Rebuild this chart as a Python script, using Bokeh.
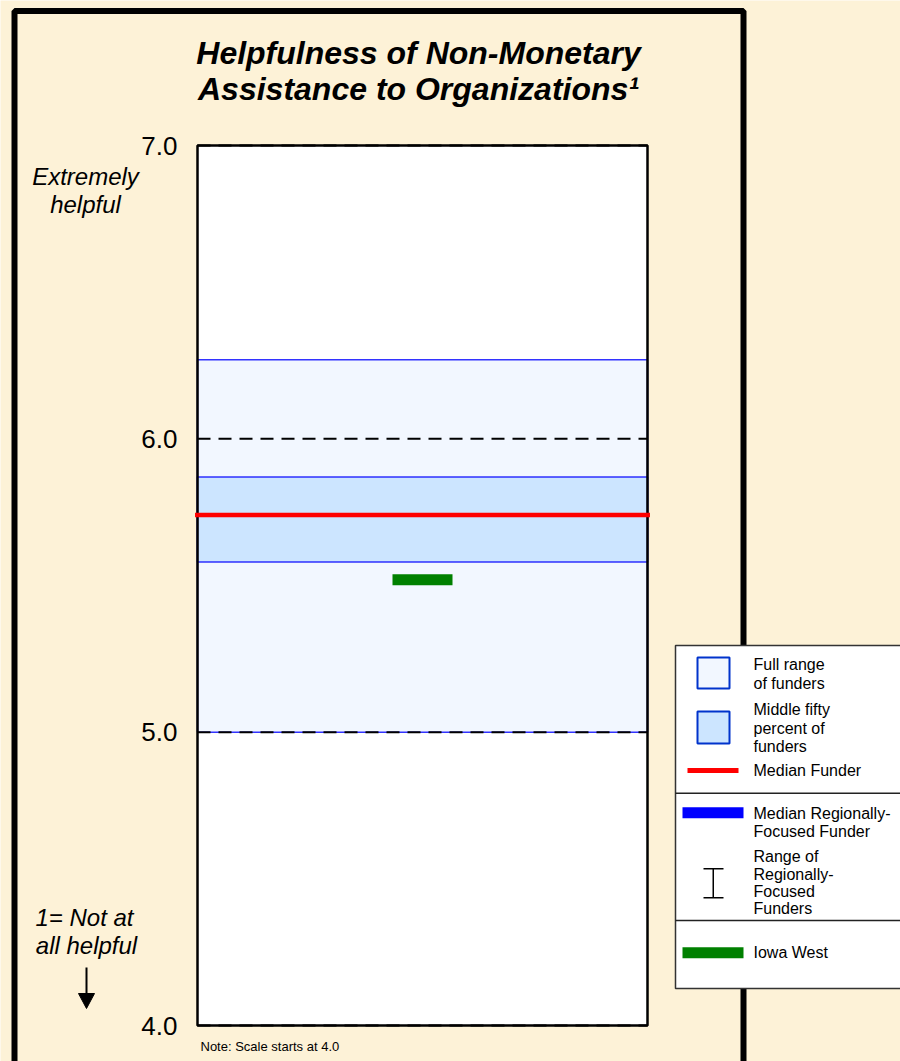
from bokeh.plotting import figure
from bokeh.models import (Range1d, FixedTicker, NumeralTickFormatter, LinearAxis,
                          BoxAnnotation, PolyAnnotation, Label)
from bokeh.embed import file_html
from bokeh.resources import INLINE

# ---------------- data ----------------
column = ["Non-Monetary Assistance"]
scale_ticks = [4.0, 5.0, 6.0, 7.0]
grid_ticks = [4.0, 5.0, 6.0, 7.0]
full_range_low = [5.00]
full_range_high = [6.27]
middle_fifty_low = [5.58]
middle_fifty_high = [5.87]
median_funder = [5.74]
iowa_west = [5.52]

title_lines = ["Helpfulness of Non-Monetary", "Assistance to Organizations\u00b9"]
top_note = ["Extremely", "helpful"]
bottom_note = ["1= Not at", "all helpful"]
footnote = "Note: Scale starts at 4.0"

BEIGE = "#FDF2D7"
FONT = "Liberation Sans"

# ---------------- layout (page pixels) ----------------
W, H = 900, 1061
PLOT_L, PLOT_R, PLOT_T, PLOT_B = 197, 647, 145, 1025

n = len(column)
col_left = [float(i) for i in range(n)]
col_right = [float(i + 1) for i in range(n)]
col_mid = [i + 0.5 for i in range(n)]

y_lo, y_hi = min(scale_ticks), max(scale_ticks)
ppx = (PLOT_R - PLOT_L) / n
ppy = (PLOT_B - PLOT_T) / (y_hi - y_lo)
x_range = Range1d(0 - PLOT_L / ppx, n + (W - PLOT_R) / ppx)
y_range = Range1d(y_lo - (H - PLOT_B) / ppy, y_hi + PLOT_T / ppy)

p = figure(width=W, height=H, output_backend="svg", toolbar_location=None,
           x_range=x_range, y_range=y_range,
           x_axis_location=None, y_axis_location=None,
           min_border=0)
p.background_fill_color = BEIGE
p.border_fill_color = BEIGE
p.outline_line_color = None
p.grid.visible = False

ax = LinearAxis(fixed_location=0.0)
ax.ticker = FixedTicker(ticks=scale_ticks)
ax.formatter = NumeralTickFormatter(format="0.0")
ax.axis_line_color = None
ax.major_tick_line_color = None
ax.minor_tick_line_color = None
ax.major_tick_out = 0
ax.major_tick_in = 0
ax.major_label_standoff = 20
ax.major_label_text_font = FONT
ax.major_label_text_font_size = "26px"
ax.major_label_text_color = "black"
p.add_layout(ax, "left")

# plot box
p.quad(left=col_left, right=col_right, bottom=[y_lo] * n, top=[y_hi] * n,
       fill_color="white", line_color=None)
# full range of funders
p.quad(left=col_left, right=col_right, bottom=full_range_low, top=full_range_high,
       fill_color="#F2F7FF", line_color="#0000FF", line_width=1.5, line_alpha=0.8)
# middle fifty percent
p.quad(left=col_left, right=col_right, bottom=middle_fifty_low, top=middle_fifty_high,
       fill_color="#CCE5FF", line_color="#0000FF", line_width=1.5, line_alpha=0.8)
# dashed grid lines
p.segment(x0=[col_left[0]] * len(grid_ticks), x1=[col_right[-1]] * len(grid_ticks),
          y0=grid_ticks, y1=grid_ticks, line_color="black", line_width=2,
          line_dash="13 8")
# plot box outline
p.quad(left=col_left, right=col_right, bottom=[y_lo] * n, top=[y_hi] * n,
       fill_color=None, line_color="black", line_width=2.5)
# median funder
p.rect(x=col_mid, y=median_funder, width=1.011, height=4.5, height_units="screen",
       fill_color="#FF0000", line_color=None)
# Iowa West
p.rect(x=col_mid, y=iowa_west, width=60, width_units="screen", height=11,
       height_units="screen", fill_color="#008000", line_color=None)


# ---------------- decorations (screen units, from page pixels) ----------------
def sx(px):
    return px


def sy(py):
    return H - py


def box(l, t, r, b, fill=None, line=None, lw=0):
    return BoxAnnotation(left=sx(l), right=sx(r), top=sy(t), bottom=sy(b),
                         left_units="screen", right_units="screen",
                         top_units="screen", bottom_units="screen",
                         fill_color=fill, fill_alpha=1.0 if fill else 0.0,
                         line_color=line, line_alpha=1.0 if line else 0.0,
                         line_width=lw)


def label(px, py, text, size, align="left", style="normal"):
    return Label(x=sx(px), y=sy(py), x_units="screen", y_units="screen", text=text,
                 text_font=FONT, text_font_size=size, text_font_style=style,
                 text_align=align, text_baseline="middle", text_color="black")


# outer frame
p.add_layout(box(14, 10.5, 743, 1090, line="black", lw=6))

# title
p.add_layout(label(418, 52, title_lines[0], "32px", "center", "bold italic"))
p.add_layout(label(418, 88, title_lines[1], "32px", "center", "bold italic"))

# left notes
p.add_layout(label(85, 176, top_note[0], "24px", "center", "italic"))
p.add_layout(label(85, 204, top_note[1], "24px", "center", "italic"))
p.add_layout(label(84, 917, bottom_note[0], "24px", "center", "italic"))
p.add_layout(label(86, 945, bottom_note[1], "24px", "center", "italic"))
p.add_layout(box(85, 967, 87, 995, fill="black"))
p.add_layout(PolyAnnotation(xs=[sx(78), sx(94), sx(86)], ys=[sy(993), sy(993), sy(1008)],
                            xs_units="screen", ys_units="screen",
                            fill_color="black", fill_alpha=1.0, line_color="black",
                            line_alpha=1.0, line_width=1))

# footnote
p.add_layout(label(200, 1046, footnote, "13px"))

# legend box
p.add_layout(box(675, 645, 910, 988, fill="white", line="#333333", lw=1.5))
p.add_layout(box(675, 792, 910, 793.5, fill="#222222"))
p.add_layout(box(675, 919.3, 910, 920.8, fill="#222222"))
p.add_layout(box(697, 657, 729, 688, fill="#F2F7FF", line="#0033CC", lw=2))
p.add_layout(box(697, 711, 729, 743, fill="#CCE5FF", line="#0033CC", lw=2))
p.add_layout(box(687, 767.5, 738, 772.5, fill="#FF0000"))
p.add_layout(box(682, 806.7, 743, 817.7, fill="#0000FF"))
p.add_layout(box(712, 868, 713.5, 897.5, fill="black"))
p.add_layout(box(703, 867.5, 723, 869, fill="black"))
p.add_layout(box(703, 896.5, 723, 898, fill="black"))
p.add_layout(box(682, 946.7, 743, 957.7, fill="#008000"))

LX = 753
FS = "16px"
legend_lines = [
    (664, "Full range"), (682.5, "of funders"),
    (708.5, "Middle fifty"), (727.5, "percent of"), (745.5, "funders"),
    (770, "Median Funder"),
    (812.5, "Median Regionally-"), (830.5, "Focused Funder"),
    (856, "Range of"), (873.5, "Regionally-"), (890.5, "Focused"), (907.5, "Funders"),
    (952, "Iowa West"),
]
for py, txt in legend_lines:
    p.add_layout(label(LX, py, txt, FS))

open("out.html", "w").write(file_html(p, INLINE))
